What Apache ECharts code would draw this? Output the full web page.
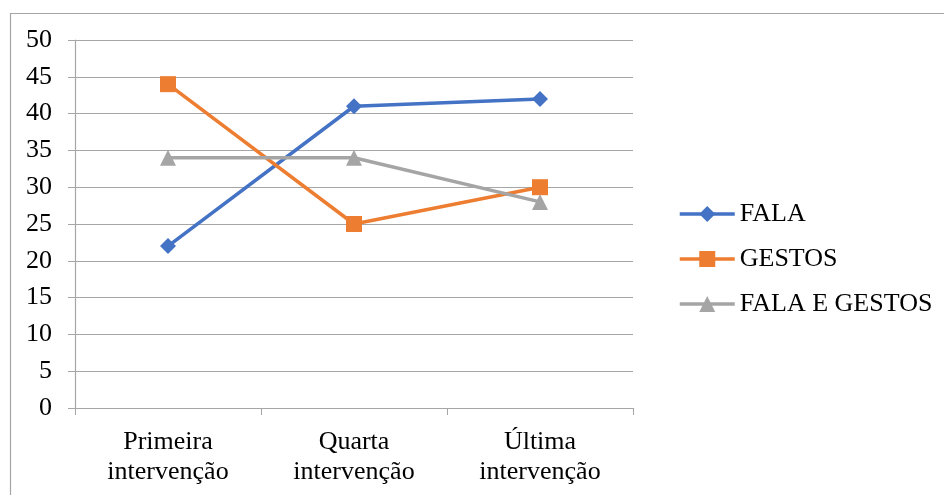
<!DOCTYPE html>
<html><head><meta charset="utf-8">
<script src="https://cdn.jsdelivr.net/npm/echarts@6/dist/echarts.min.js"></script>
<style>html,body{margin:0;padding:0;background:#fff}#c{width:944px;height:495px}</style>
</head><body><div id="c"></div>
<script>
var categories = ['Primeira\nintervenção', 'Quarta\nintervenção', 'Última\nintervenção'];
var fala = [22, 41, 42];
var gestos = [44, 25, 30];
var falaEGestos = [34, 34, 28];
var seriesNames = ['FALA', 'GESTOS', 'FALA E GESTOS'];
var colors = ['#4472C4', '#ED7D31', '#A5A5A5'];
var FONT = '"Liberation Serif", "Times New Roman", serif';

var chart = echarts.init(document.getElementById('c'), null, {renderer: 'canvas'});
chart.setOption({
  animation: false,
  backgroundColor: '#fff',
  graphic: [{
    type: 'rect', left: 8, top: 11,
    shape: {width: 1000, height: 600},
    style: {fill: 'none', stroke: '#a6a6a6', lineWidth: 1.2},
    silent: true
  }],
  grid: {left: 75, right: 311, top: 40, bottom: 87, containLabel: false},
  legend: {
    orient: 'vertical',
    left: 673, top: 196,
    itemWidth: 55, itemHeight: 20, itemGap: 19,
    lineStyle: {width: 3.5},
    textStyle: {fontFamily: FONT, fontSize: 26, color: '#000', padding: [0, 0, 0, 0]},
    data: seriesNames
  },
  xAxis: {
    type: 'category',
    data: categories,
    boundaryGap: true,
    axisLine: {lineStyle: {color: '#a6a6a6', width: 1.2}},
    axisTick: {show: true, alignWithLabel: false, length: 7, lineStyle: {color: '#a6a6a6'}},
    axisLabel: {fontFamily: FONT, fontSize: 26, color: '#000', lineHeight: 30, margin: 19, interval: 0}
  },
  yAxis: {
    type: 'value', min: 0, max: 50, interval: 5,
    axisLine: {show: true, lineStyle: {color: '#a6a6a6', width: 1.2}},
    axisTick: {show: true, length: 7, lineStyle: {color: '#a6a6a6'}},
    splitLine: {lineStyle: {color: '#a6a6a6', width: 1.2}},
    axisLabel: {fontFamily: FONT, fontSize: 26, color: '#000', margin: 23}
  },
  series: [
    {name: seriesNames[0], type: 'line', data: fala, symbol: 'diamond', symbolSize: 16,
     lineStyle: {color: colors[0], width: 3.5}, itemStyle: {color: colors[0]}},
    {name: seriesNames[1], type: 'line', data: gestos, symbol: 'rect', symbolSize: 16,
     lineStyle: {color: colors[1], width: 3.5}, itemStyle: {color: colors[1]}},
    {name: seriesNames[2], type: 'line', data: falaEGestos, symbol: 'triangle', symbolSize: 16,
     lineStyle: {color: colors[2], width: 3.5}, itemStyle: {color: colors[2]}}
  ]
});
</script></body></html>
